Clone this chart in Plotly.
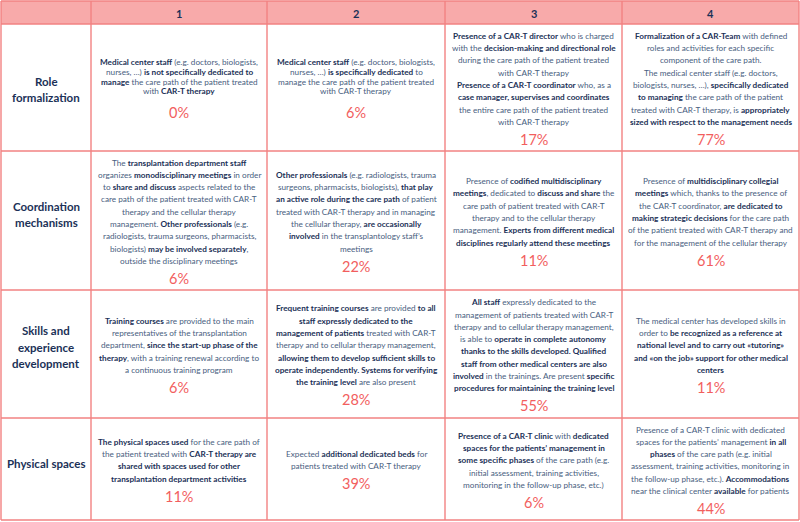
import plotly.graph_objects as go

# ---------------- data ----------------
levels = ["1", "2", "3", "4"]
dimensions = [
    ["Role", "formalization"],
    ["Coordination", "mechanisms"],
    ["Skills and", "experience", "development"],
    ["Physical spaces"],
]
role_texts = [
    ["<b>Medical center staff</b> (e.g. doctors, biologists,",
     "nurses, …) <b>is not specifically dedicated to</b>",
     "<b>manage</b> the care path of the patient treated",
     "with <b>CAR-T therapy</b>"],
    ["<b>Medical center staff</b> (e.g. doctors, biologists,",
     "nurses, …) <b>is specifically dedicated</b> to",
     "manage the care path of the patient treated",
     "with CAR-T therapy"],
    ["<b>Presence of a CAR-T director</b> who is charged",
     "with the <b>decision-making and directional role</b>",
     "during the care path of the patient treated",
     "with CAR-T therapy",
     "<b>Presence of a CAR-T coordinator</b> who, as a",
     "<b>case manager, supervises and coordinates</b>",
     "the entire care path of the patient treated",
     "with CAR-T therapy"],
    ["<b>Formalization of a CAR-Team</b> with defined",
     "roles and activities for each specific",
     "component of the care path.",
     "The medical center staff (e.g. doctors,",
     "biologists, nurses, …), <b>specifically dedicated</b>",
     "<b>to managing</b> the care path of the patient",
     "treated with CAR-T therapy, is <b>appropriately</b>",
     "<b>sized with respect to the management needs</b>"],
]
coordination_texts = [
    ["The <b>transplantation department staff</b>",
     "organizes <b>monodisciplinary meetings</b> in order",
     "to <b>share and discuss</b> aspects related to the",
     "care path of the patient treated with CAR-T",
     "therapy and the cellular therapy",
     "management. <b>Other professionals</b> (e.g.",
     "radiologists, trauma surgeons, pharmacists,",
     "biologists) <b>may be involved separately</b>,",
     "outside the disciplinary meetings"],
    ["<b>Other professionals</b> (e.g. radiologists, trauma",
     "surgeons, pharmacists, biologists), <b>that play</b>",
     "<b>an active role during the care path</b> of patient",
     "treated with CAR-T therapy and in managing",
     "the cellular therapy, <b>are occasionally</b>",
     "<b>involved</b> in the transplantology staff’s",
     "meetings"],
    ["Presence of <b>codified multidisciplinary</b>",
     "<b>meetings</b>, dedicated to <b>discuss and share</b> the",
     "care path of patient treated with CAR-T",
     "therapy and to the cellular therapy",
     "management. <b>Experts from different medical</b>",
     "<b>disciplines regularly attend these meetings</b>"],
    ["Presence of <b>multidisciplinary collegial</b>",
     "<b>meetings</b> which, thanks to the presence of",
     "the CAR-T coordinator, <b>are dedicated to</b>",
     "<b>making strategic decisions</b> for the care path",
     "of the patient treated with CAR-T therapy and",
     "for the management of the cellular therapy"],
]
skills_texts = [
    ["<b>Training courses</b> are provided to the main",
     "representatives of the transplantation",
     "department, <b>since the start-up phase of the</b>",
     "<b>therapy</b>, with a training renewal according to",
     "a continuous training program"],
    ["<b>Frequent training courses</b> are provided <b>to all</b>",
     "<b>staff expressly dedicated to the</b>",
     "<b>management of patients</b> treated with CAR-T",
     "therapy and to cellular therapy management,",
     "<b>allowing them to develop sufficient skills to</b>",
     "<b>operate independently. Systems for verifying</b>",
     "<b>the training level</b> are also present"],
    ["<b>All staff</b> expressly dedicated to the",
     "management of patients treated with CAR-T",
     "therapy and to cellular therapy management,",
     "is able to <b>operate in complete autonomy</b>",
     "<b>thanks to the skills developed. Qualified</b>",
     "<b>staff from other medical centers are also</b>",
     "<b>involved</b> in the trainings. Are present <b>specific</b>",
     "<b>procedures for maintaining the training level</b>"],
    ["The medical center has developed skills in",
     "order to <b>be recognized as a reference at</b>",
     "<b>national level and to carry out «tutoring»</b>",
     "<b>and «on the job» support for other medical</b>",
     "<b>centers</b>"],
]
spaces_texts = [
    ["<b>The physical spaces used</b> for the care path of",
     "the patient treated with <b>CAR-T therapy are</b>",
     "<b>shared with spaces used for other</b>",
     "<b>transplantation department activities</b>"],
    ["Expected <b>additional dedicated beds</b> for",
     "patients treated with CAR-T therapy"],
    ["<b>Presence of a CAR-T clinic</b> with <b>dedicated</b>",
     "<b>spaces for the patients’ management in</b>",
     "<b>some specific phases</b> of the care path (e.g.",
     "initial assessment, training activities,",
     "monitoring in the follow-up phase, etc.)"],
    ["Presence of a CAR-T clinic with dedicated",
     "spaces for the patients’ management <b>in all</b>",
     "<b>phases</b> of the care path (e.g. initial",
     "assessment, training activities, monitoring in",
     "the follow-up phase, etc.). <b>Accommodations</b>",
     "near the clinical center <b>available</b> for patients"],
]
role_pct = [0, 6, 17, 77]
coordination_pct = [6, 22, 11, 61]
skills_pct = [6, 28, 55, 11]
spaces_pct = [11, 39, 6, 44]

descriptions = [role_texts, coordination_texts, skills_texts, spaces_texts]
percentages = [role_pct, coordination_pct, skills_pct, spaces_pct]

# ---------------- layout / style ----------------
W, H = 800, 522
col_widths = [90, 176, 178, 177, 177]
row_heights = [23, 127, 139, 128, 102]
x0, y0 = 1, 1
LINE = "#F28282"
HEAD_FILL = "#F8AAAA"
NAVY = "#1B3157"
TXT = "#485E80"
PCT = "#F25E5E"
FONT = "Lato, sans-serif"
FS = 8.2
SP = 12.3                      # default line spacing inside cells
TIGHT = {(0, 0): 9.6, (0, 1): 9.6}   # tighter line spacing for some cells
GAP = 17.5                     # last text line -> percentage
TIGHT_GAP = 21.5
PCT_FS = 14.5
LABEL_FS = 11.5
LABEL_SP = 16.8
label_shift = [2, -6, -7, -6]

xe = [x0]
for w in col_widths:
    xe.append(xe[-1] + w)
ye = [y0]
for h in row_heights:
    ye.append(ye[-1] + h)

fig = go.Figure()
shapes = []
annotations = []

shapes.append(dict(type="rect", x0=xe[0], x1=xe[-1], y0=ye[0], y1=ye[1],
                   fillcolor=HEAD_FILL, line=dict(width=0), layer="below"))
for x in xe:
    shapes.append(dict(type="line", x0=x, x1=x, y0=ye[0], y1=ye[-1],
                       line=dict(color=LINE, width=1.4)))
for y in ye:
    shapes.append(dict(type="line", x0=xe[0], x1=xe[-1], y0=y, y1=y,
                       line=dict(color=LINE, width=1.4)))

for j, lab in enumerate(levels):
    annotations.append(dict(x=(xe[j + 1] + xe[j + 2]) / 2, y=(ye[0] + ye[1]) / 2 + 1,
                            text=f"<b>{lab}</b>", showarrow=False,
                            font=dict(family=FONT, size=11, color=NAVY),
                            xanchor="center", yanchor="middle"))


def colorize(line):
    return line.replace("<b>", f"<span style='color:{NAVY}'><b>").replace("</b>", "</b></span>")


for i, dim in enumerate(dimensions):
    cy = (ye[i + 1] + ye[i + 2]) / 2
    ly0 = cy + label_shift[i] - (len(dim) - 1) * LABEL_SP / 2
    for k, part in enumerate(dim):
        annotations.append(dict(x=(xe[0] + xe[1]) / 2, y=ly0 + k * LABEL_SP,
                                text=f"<b>{part}</b>", showarrow=False,
                                font=dict(family=FONT, size=LABEL_FS, color=NAVY),
                                xanchor="center", yanchor="middle"))
    for j in range(4):
        lines = descriptions[i][j]
        n = len(lines)
        sp = TIGHT.get((i, j), SP)
        gap = TIGHT_GAP if (i, j) in TIGHT else GAP
        block = (n - 1) * sp + gap
        first = cy - block / 2
        cx = (xe[j + 1] + xe[j + 2]) / 2
        for k, line in enumerate(lines):
            annotations.append(dict(x=cx, y=first + k * sp, text=colorize(line),
                                    showarrow=False, xanchor="center", yanchor="middle",
                                    font=dict(family=FONT, size=FS, color=TXT)))
        annotations.append(dict(x=cx, y=first + (n - 1) * sp + gap,
                                text=f"{percentages[i][j]}%", showarrow=False,
                                xanchor="center", yanchor="middle",
                                font=dict(family=FONT, size=PCT_FS, color=PCT)))

fig.update_layout(
    width=W, height=H,
    margin=dict(l=0, r=0, t=0, b=0),
    paper_bgcolor="white", plot_bgcolor="white",
    xaxis=dict(range=[0, W], visible=False, fixedrange=True),
    yaxis=dict(range=[H, 0], visible=False, fixedrange=True),
    shapes=shapes, annotations=annotations, showlegend=False,
)
fig.write_html("out.html", config={"displayModeBar": False},
               post_script="document.body.style.margin='0';document.body.style.overflow='hidden';")
